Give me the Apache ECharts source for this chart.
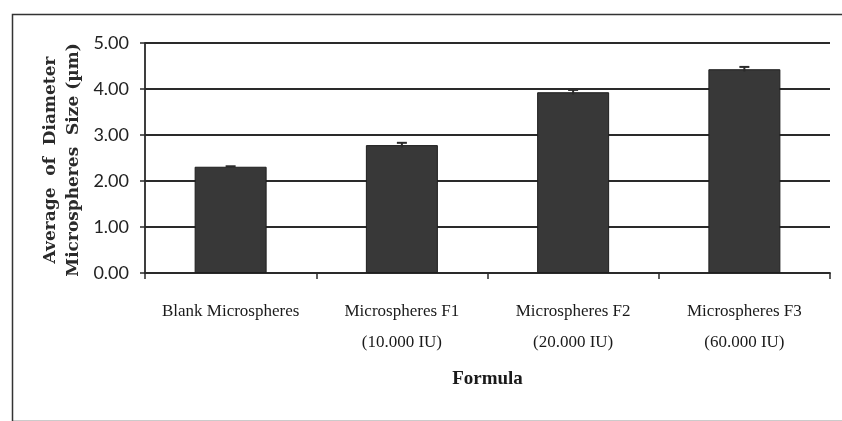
<!DOCTYPE html>
<html>
<head>
<meta charset="utf-8">
<script src="https://cdn.jsdelivr.net/npm/echarts@6/dist/echarts.min.js"></script>
<style>
html,body{margin:0;padding:0;background:#fff;}
#c{width:842px;height:421px;}
</style>
</head>
<body>
<div id="c"></div>
<script>
var categories = ['Blank Microspheres', 'Microspheres F1\n(10.000 IU)', 'Microspheres F2\n(20.000 IU)', 'Microspheres F3\n(60.000 IU)'];
var meanSize = [2.31, 2.78, 3.93, 4.43];
var errSize = [0.01, 0.05, 0.05, 0.05];
var yTicks = [0, 1, 2, 3, 4, 5];
var yTitle = 'Average  of  Diameter\nMicrospheres  Size (µm)';
var xTitle = 'Formula';

var chart = echarts.init(document.getElementById('c'), null, {renderer: 'canvas'});
var errData = meanSize.map(function (v, i) { return [i, v, errSize[i]]; });

chart.setOption({
  animation: false,
  backgroundColor: '#fff',
  graphic: [{
    type: 'rect', left: 10, top: 12, silent: true,
    shape: {width: 900, height: 407},
    style: {fill: 'none', stroke: '#333', lineWidth: 1.5}
  }, {
    type: 'text', x: 62, y: 160, rotation: Math.PI / 2, silent: true,
    style: {
      text: yTitle, fontFamily: 'DejaVu Serif', fontWeight: 'bold', fontSize: 17,
      fill: '#2a2a2a', lineHeight: 23, align: 'center', verticalAlign: 'middle'
    }
  }],
  grid: {left: 145, right: 12, top: 43, bottom: 148},
  xAxis: {
    type: 'category',
    data: categories,
    name: xTitle,
    nameLocation: 'middle',
    nameGap: 97,
    nameTextStyle: {fontFamily: 'Liberation Serif', fontWeight: 'bold', fontSize: 19, color: '#1a1a1a'},
    axisLine: {show: true, lineStyle: {color: '#2a2a2a', width: 1.8}},
    axisTick: {show: true, alignWithLabel: false, length: 6, lineStyle: {color: '#2a2a2a', width: 1.5}},
    axisLabel: {fontFamily: 'Liberation Serif', fontSize: 17, color: '#1a1a1a', lineHeight: 31, margin: 23, interval: 0}
  },
  yAxis: {
    type: 'value',
    min: yTicks[0],
    max: yTicks[yTicks.length - 1],
    interval: 1,
    axisLine: {show: true, lineStyle: {color: '#2a2a2a', width: 1.8}},
    axisTick: {show: true, length: 5, lineStyle: {color: '#2a2a2a', width: 1.5}},
    axisLabel: {fontFamily: 'Lato', fontSize: 18, color: '#222', margin: 16,
      formatter: function (v) { return v.toFixed(2); }},
    splitLine: {show: true, lineStyle: {color: '#2a2a2a', width: 1.8}}
  },
  series: [{
    type: 'bar',
    data: meanSize,
    barWidth: 72,
    itemStyle: {color: '#383838', borderColor: '#1e1e1e', borderWidth: 1}
  }, {
    type: 'custom',
    data: errData,
    z: 5,
    renderItem: function (params, api) {
      var x = api.value(0), v = api.value(1), e = api.value(2);
      var top = api.coord([x, v + e]);
      var bot = api.coord([x, v - e]);
      var hw = 5;
      return {
        type: 'group',
        children: [
          {type: 'line', shape: {x1: top[0], y1: top[1], x2: bot[0], y2: bot[1]}, style: {stroke: '#2a2a2a', lineWidth: 2}},
          {type: 'line', shape: {x1: top[0] - hw, y1: top[1], x2: top[0] + hw, y2: top[1]}, style: {stroke: '#2a2a2a', lineWidth: 2}}
        ]
      };
    }
  }]
});
</script>
</body>
</html>
